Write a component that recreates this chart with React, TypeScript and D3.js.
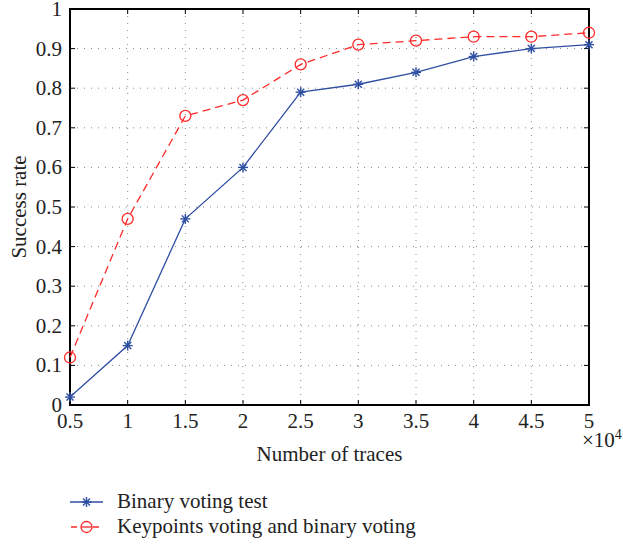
import React from "react";
import * as d3 from "d3";

const traces = [0.5, 1, 1.5, 2, 2.5, 3, 3.5, 4, 4.5, 5];
const binaryVoting = [0.02, 0.15, 0.47, 0.6, 0.79, 0.81, 0.84, 0.88, 0.9, 0.91];
const keypointsVoting = [0.12, 0.47, 0.73, 0.77, 0.86, 0.91, 0.92, 0.93, 0.93, 0.94];
const xTicks = [0.5, 1, 1.5, 2, 2.5, 3, 3.5, 4, 4.5, 5];
const yTicks = [0, 0.1, 0.2, 0.3, 0.4, 0.5, 0.6, 0.7, 0.8, 0.9, 1];

const W = 623;
const H = 547;
const M = { left: 70, right: 589, top: 9, bottom: 405 };
const BLUE = "#2f4fa3";
const RED = "#ff2a2a";
const FONT = "'Liberation Serif', 'DejaVu Serif', serif";
const FS = 21;

const Star = ({ x, y }: { x: number; y: number }) => {
  const r = 5;
  return (
    <g stroke={BLUE} strokeWidth={1.4}>
      <line x1={x - r} y1={y} x2={x + r} y2={y} />
      <line x1={x} y1={y - r} x2={x} y2={y + r} />
      <line x1={x - r * 0.7} y1={y - r * 0.7} x2={x + r * 0.7} y2={y + r * 0.7} />
      <line x1={x - r * 0.7} y1={y + r * 0.7} x2={x + r * 0.7} y2={y - r * 0.7} />
    </g>
  );
};

export default function App() {
  const x = d3.scaleLinear().domain([0.5, 5]).range([M.left, M.right]);
  const y = d3.scaleLinear().domain([0, 1]).range([M.bottom, M.top]);

  const line = d3
    .line<number>()
    .x((_, i) => x(traces[i]))
    .y((d) => y(d));

  return (
    <svg width={W} height={H} style={{ position: "absolute", left: 0, top: 0 }} fontFamily={FONT}>
      <rect width={W} height={H} fill="#fff" />
      {/* grid */}
      <g stroke="#888" strokeWidth={1} strokeDasharray="1,6">
        {xTicks.slice(1, -1).map((t) => (
          <line key={`gx${t}`} x1={x(t)} x2={x(t)} y1={M.top} y2={M.bottom} />
        ))}
        {yTicks.slice(1, -1).map((t) => (
          <line key={`gy${t}`} x1={M.left} x2={M.right} y1={y(t)} y2={y(t)} />
        ))}
      </g>
      {/* ticks */}
      <g stroke="#000" strokeWidth={1}>
        {xTicks.map((t) => (
          <g key={`tx${t}`}>
            <line x1={x(t)} x2={x(t)} y1={M.bottom} y2={M.bottom - 5} />
            <line x1={x(t)} x2={x(t)} y1={M.top} y2={M.top + 5} />
          </g>
        ))}
        {yTicks.map((t) => (
          <g key={`ty${t}`}>
            <line x1={M.left} x2={M.left + 5} y1={y(t)} y2={y(t)} />
            <line x1={M.right} x2={M.right - 5} y1={y(t)} y2={y(t)} />
          </g>
        ))}
      </g>
      <rect
        x={M.left}
        y={M.top}
        width={M.right - M.left}
        height={M.bottom - M.top}
        fill="none"
        stroke="#000"
        strokeWidth={2}
      />
      {/* tick labels */}
      <g fontSize={FS} fill="#222">
        {xTicks.map((t) => (
          <text key={`lx${t}`} x={x(t)} y={M.bottom + 23} textAnchor="middle">
            {t}
          </text>
        ))}
        {yTicks.map((t) => (
          <text key={`ly${t}`} x={M.left - 8} y={y(t) + 7} textAnchor="end">
            {t}
          </text>
        ))}
        <text x={582} y={447}>
          ×10<tspan fontSize={14} dy={-8}>4</tspan>
        </text>
      </g>
      <text x={(M.left + M.right) / 2} y={461} textAnchor="middle" fontSize={FS} fill="#222">
        Number of traces
      </text>
      <text
        transform={`translate(26,${(M.top + M.bottom) / 2}) rotate(-90)`}
        textAnchor="middle"
        fontSize={FS}
        fill="#222"
      >
        Success rate
      </text>
      {/* series */}
      <path d={line(keypointsVoting) ?? ""} fill="none" stroke={RED} strokeWidth={1.3} strokeDasharray="8,5" />
      <path d={line(binaryVoting) ?? ""} fill="none" stroke={BLUE} strokeWidth={1.3} />
      {keypointsVoting.map((v, i) => (
        <circle key={`c${i}`} cx={x(traces[i])} cy={y(v)} r={5.5} fill="none" stroke={RED} strokeWidth={1.3} />
      ))}
      {binaryVoting.map((v, i) => (
        <Star key={`s${i}`} x={x(traces[i])} y={y(v)} />
      ))}
      {/* legend */}
      <g>
        <line x1={70} x2={103} y1={502} y2={502} stroke={BLUE} strokeWidth={1.3} />
        <Star x={86.5} y={502} />
        <text x={117} y={508} fontSize={FS} fill="#222">
          Binary voting test
        </text>
        <line x1={70} x2={103} y1={527} y2={527} stroke={RED} strokeWidth={1.3} strokeDasharray="6,5" strokeDashoffset={-1} />
        <circle cx={86.5} cy={527} r={5.5} fill="#fff" stroke={RED} strokeWidth={1.3} />
        <line x1={81} x2={92} y1={527} y2={527} stroke={RED} strokeWidth={1.3} />
        <text x={117} y={533} fontSize={FS} fill="#222">
          Keypoints voting and binary voting
        </text>
      </g>
    </svg>
  );
}
